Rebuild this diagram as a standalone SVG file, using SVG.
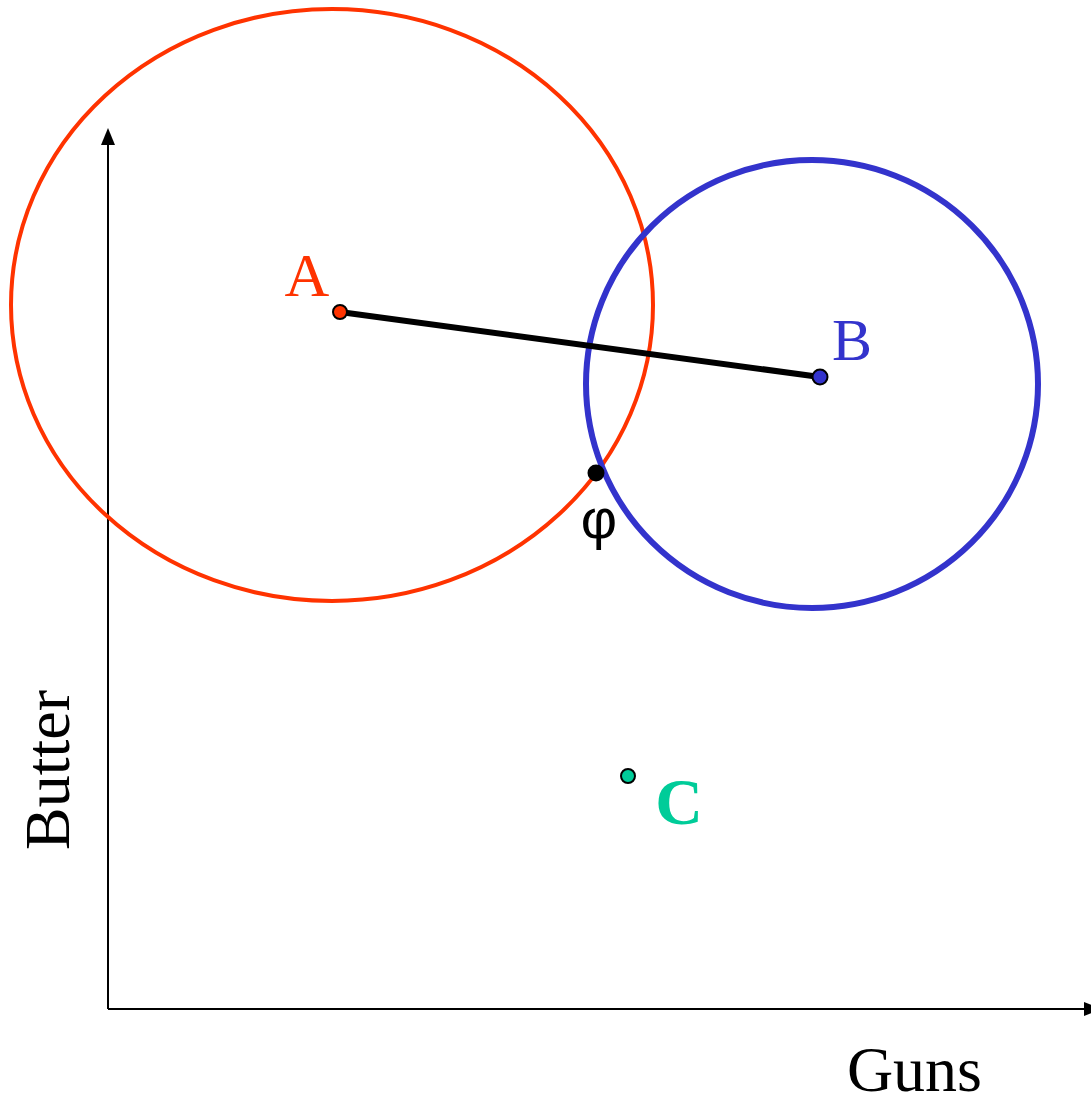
<svg xmlns="http://www.w3.org/2000/svg" width="1091" height="1103" viewBox="0 0 1091 1103">
<defs>
<style>
.lbl{font-family:"Liberation Serif","Times New Roman",serif;}
.axis{stroke:#000;stroke-width:2;fill:none;}
</style>
</defs>
<rect width="1091" height="1103" fill="#fff"/>
<g id="axes">
<line class="axis" x1="108" y1="1009" x2="108" y2="140"/>
<path d="M101,145 L108,128 L115,145 z" fill="#000"/>
<line class="axis" x1="108" y1="1009" x2="1088" y2="1009"/>
<path d="M1084,1002 L1102,1009 L1084,1016 z" fill="#000"/>
<text class="lbl" x="982" y="1091" font-size="64" text-anchor="end">Guns</text>
<text class="lbl" transform="translate(69,850) rotate(-90)" font-size="64">Butter</text>
</g>
<g id="circleA">
<ellipse cx="332" cy="305" rx="321" ry="296" fill="none" stroke="#FF3300" stroke-width="4"/>
</g>
<g id="circleB">
<ellipse cx="812" cy="384" rx="226" ry="224" fill="none" stroke="#3333CC" stroke-width="6"/>
</g>
<g id="connectors">
<line x1="340" y1="312" x2="820" y2="377" stroke="#000" stroke-width="6"/>
</g>
<g id="A">
<circle cx="340" cy="312" r="7" fill="#FF3300" stroke="#000" stroke-width="2"/>
<text class="lbl" x="307" y="296" font-size="62" fill="#FF3300" text-anchor="middle">A</text>
</g>
<g id="B">
<circle cx="820" cy="377" r="7.5" fill="#3333CC" stroke="#000" stroke-width="2"/>
<text class="lbl" x="852" y="360" font-size="60" fill="#3333CC" text-anchor="middle">B</text>
</g>
<g id="phi">
<circle cx="596" cy="473" r="8.5" fill="#000"/>
<text x="599" y="538" font-family="Liberation Sans, sans-serif" font-size="56" text-anchor="middle">φ</text>
</g>
<g id="C">
<circle cx="628" cy="776" r="7" fill="#00CC99" stroke="#000" stroke-width="2"/>
<text class="lbl" x="679" y="824" font-size="66" font-weight="bold" fill="#00CC99" text-anchor="middle">C</text>
</g>
</svg>
